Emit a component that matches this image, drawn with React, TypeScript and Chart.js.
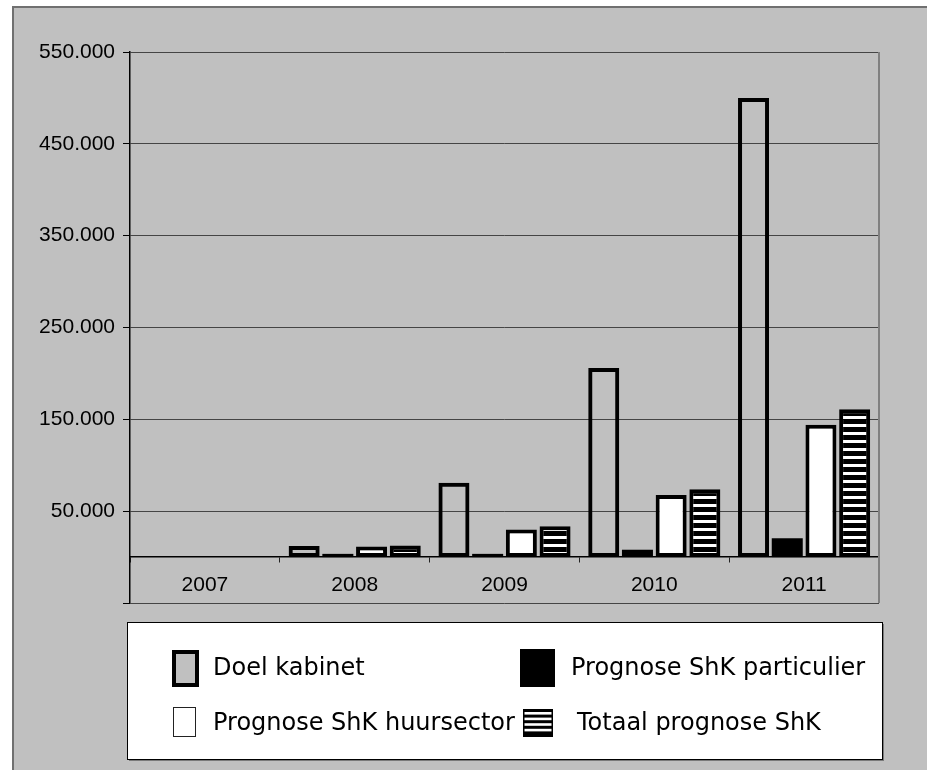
import React, { useEffect, useRef } from 'react';
import { Chart, registerables } from 'chart.js';

Chart.register(...registerables);

// ---- data ----
const categories = ['2007', '2008', '2009', '2010', '2011'];
const doelKabinet = [0, 12000, 81000, 206000, 500000];
const particulier = [0, 3500, 3500, 8000, 20500];
const huursector = [0, 11500, 30000, 67500, 144000];
const totaalPrognose = [0, 12500, 33500, 74000, 161000];
const yTickValues = [-50000, 50000, 150000, 250000, 350000, 450000, 550000];
const seriesLabels = [
  'Doel kabinet',
  'Prognose ShK particulier',
  'Prognose ShK huursector',
  'Totaal prognose ShK',
];

const fmt = (v: number) => String(Math.round(v)).replace(/\B(?=(\d{3})+(?!\d))/g, '.');

const AXIS_FONT = '"Liberation Sans", Arial, sans-serif';
const LEGEND_FONT = '"DejaVu Sans", Verdana, sans-serif';

function makeStripes(ctx: CanvasRenderingContext2D) {
  const c = document.createElement('canvas');
  c.width = 4;
  c.height = 8;
  const g = c.getContext('2d')!;
  g.fillStyle = '#000';
  g.fillRect(0, 0, 4, 8);
  g.fillStyle = '#fff';
  g.fillRect(0, 0, 4, 3);
  return ctx.createPattern(c, 'repeat');
}

const framePlugin = {
  id: 'frameAndLegend',
  afterDraw(chart: any) {
    const ctx: CanvasRenderingContext2D = chart.ctx;
    const ca = chart.chartArea;
    ctx.save();
    // right plot border
    ctx.strokeStyle = '#808080';
    ctx.lineWidth = 2;
    ctx.beginPath();
    ctx.moveTo(ca.right, ca.top);
    ctx.lineTo(ca.right, ca.bottom);
    ctx.stroke();

    // legend box
    const lx = 127, ly = 622, lw = 755, lh = 137;
    ctx.fillStyle = '#7a7a7a';
    ctx.fillRect(lx + 2, ly + 2, lw, lh);
    ctx.fillStyle = '#fff';
    ctx.fillRect(lx, ly, lw, lh);
    ctx.strokeStyle = '#000';
    ctx.lineWidth = 1;
    ctx.strokeRect(lx + 0.5, ly + 0.5, lw, lh);

    // Doel kabinet icon
    ctx.fillStyle = '#000';
    ctx.fillRect(172, 650, 27, 37);
    ctx.fillStyle = '#c0c0c0';
    ctx.fillRect(176, 654, 19, 29);
    // particulier icon
    ctx.fillStyle = '#000';
    ctx.fillRect(520, 649, 35, 38);
    // huursector icon
    ctx.fillStyle = '#fff';
    ctx.fillRect(173, 707, 23, 30);
    ctx.strokeStyle = '#222';
    ctx.lineWidth = 1;
    ctx.strokeRect(173.5, 707.5, 22, 29);
    // totaal icon (stripes)
    ctx.fillStyle = '#fff';
    ctx.fillRect(523, 709, 30, 28);
    ctx.fillStyle = '#000';
    for (let y = 709; y < 737; y += 5.6) {
      ctx.fillRect(523, y, 30, 3);
    }
    ctx.fillRect(523, 709, 1.5, 28);
    ctx.fillRect(551.5, 709, 1.5, 28);
    ctx.fillRect(523, 734, 30, 3);

    ctx.fillStyle = '#000';
    ctx.font = `24px ${LEGEND_FONT}`;
    ctx.textBaseline = 'alphabetic';
    ctx.textAlign = 'left';
    const labels = chart.data.datasets.map((d: any) => d.label);
    ctx.fillText(labels[0], 213, 675);
    ctx.fillText(labels[1], 571, 675);
    ctx.fillText(labels[2], 213, 730);
    ctx.fillText(labels[3], 577, 730);
    ctx.restore();
  },
};

export default function App() {
  const ref = useRef<HTMLCanvasElement | null>(null);

  useEffect(() => {
    const canvas = ref.current!;
    const ctx = canvas.getContext('2d')!;
    const stripes = makeStripes(ctx);
    const common = { categoryPercentage: 0.9, barPercentage: 0.92, borderSkipped: false as const };
    const chart = new Chart(canvas, {
      type: 'bar',
      data: {
        labels: categories,
        datasets: [
          { ...common, label: seriesLabels[0], data: doelKabinet, backgroundColor: 'rgba(0,0,0,0)', borderColor: '#000', borderWidth: 4 },
          { ...common, label: seriesLabels[1], data: particulier, backgroundColor: '#000', borderColor: '#000', borderWidth: 0 },
          { ...common, label: seriesLabels[2], data: huursector, backgroundColor: '#fff', borderColor: '#000', borderWidth: 4 },
          { ...common, label: seriesLabels[3], data: totaalPrognose, backgroundColor: stripes as any, borderColor: '#000', borderWidth: 4 },
        ],
      },
      options: {
        responsive: false,
        animation: false,
        layout: { padding: { left: 0, top: 52, right: 48, bottom: 167 } },
        plugins: {
          legend: { display: false },
          tooltip: { enabled: false },
          title: { display: false },
        },
        scales: {
          x: {
            position: { y: 0 } as any,
            offset: true,
            grid: {
              offset: true,
              drawOnChartArea: false,
              drawTicks: true,
              tickLength: 5,
              color: '#222',
              lineWidth: 1,
            },
            border: { display: true, color: '#000', width: 1.5 },
            ticks: {
              font: { family: AXIS_FONT, size: 21 },
              color: '#000',
              padding: 11,
              maxRotation: 0,
              autoSkip: false,
            },
          },
          y: {
            min: -50000,
            max: 550000,
            afterBuildTicks: (s: any) => {
              s.ticks = yTickValues.map((v) => ({ value: v }));
            },
            afterFit: (s: any) => {
              s.width = 130;
            },
            grid: {
              color: '#454545',
              lineWidth: 1,
              drawTicks: true,
              tickLength: 7,
              tickColor: '#000',
            },
            border: { display: true, color: '#000', width: 1.5 },
            ticks: {
              callback: (v: any) => (Number(v) < 0 ? '' : fmt(Number(v))),
              font: { family: AXIS_FONT, size: 21 },
              color: '#000',
              padding: 8,
            },
          },
        },
      },
      plugins: [framePlugin],
    });
    return () => chart.destroy();
  }, []);

  return (
    <>
      <div
        style={{
          position: 'fixed',
          left: 12,
          top: 6,
          right: 0,
          bottom: 0,
          background: '#c0c0c0',
          borderLeft: '2px solid #707070',
          borderTop: '2px solid #707070',
        }}
      />
      <canvas
        ref={ref}
        width={927}
        height={770}
        style={{ position: 'fixed', left: 0, top: 0, width: 927, height: 770 }}
      />
    </>
  );
}
